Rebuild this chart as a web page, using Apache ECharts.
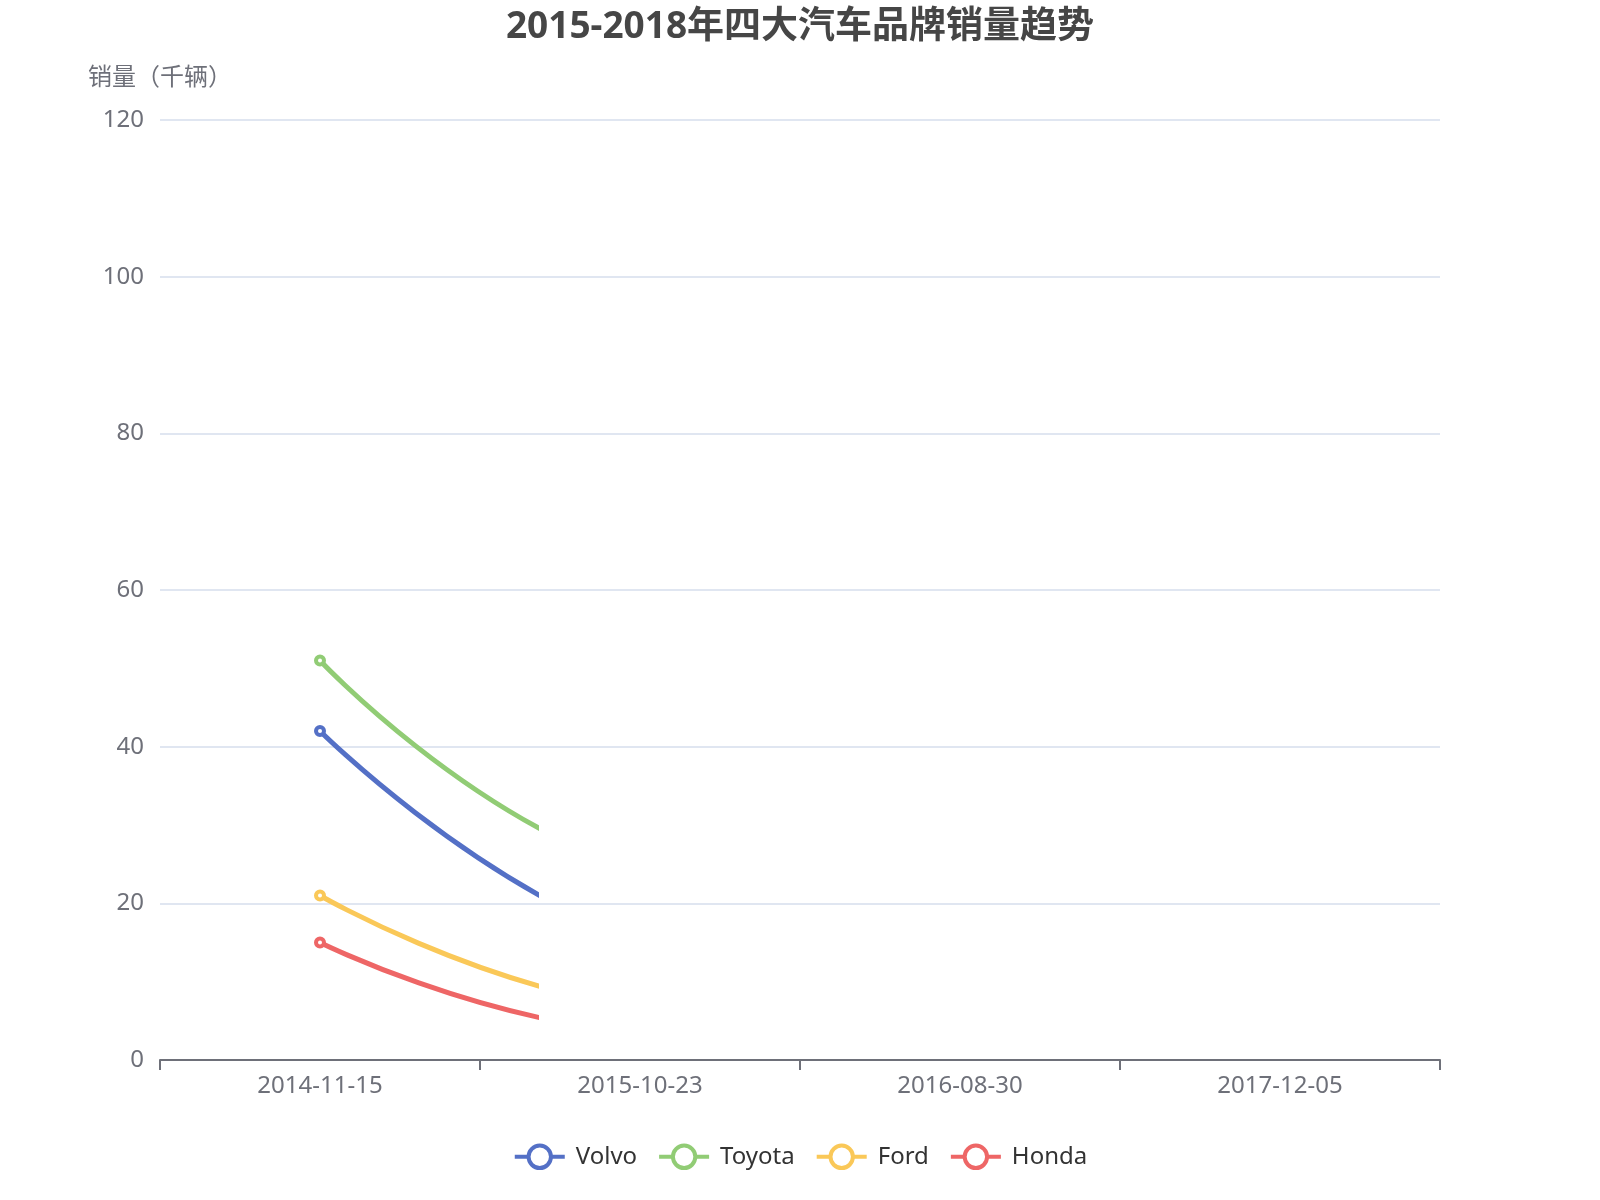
<!DOCTYPE html>
<html>
<head>
<meta charset="utf-8">
<script src="https://cdn.jsdelivr.net/npm/echarts@6/dist/echarts.min.js"></script>
<style>
html, body { margin: 0; padding: 0; background: #ffffff; }
#main { width: 1600px; height: 1200px; }
</style>
</head>
<body>
<div id="main"></div>
<script>
// ---- data ----
const categories = ['2014-11-15', '2015-10-23', '2016-08-30', '2017-12-05'];
const seriesNames = ['Volvo', 'Toyota', 'Ford', 'Honda'];
const volvo  = [42, 15, 8, 62];
const toyota = [51, 24, 18, 108];
const ford   = [21, 6.7, 4, 36];
const honda  = [15, 3.5, 2, 22];
const yTicks = [0, 20, 40, 60, 80, 100, 120];
const titleText = '2015-2018年四大汽车品牌销量趋势';
const yAxisName = '销量（千辆）';

// ---- style / layout ----
const palette = ['#5470c6', '#91cc75', '#fac858', '#ee6666'];
const FONT = "'Noto Sans', 'Noto Sans CJK SC', sans-serif";
const W = 1600;
const gridLeft = 160, gridRight = 160, gridTop = 120, gridBottom = 140;
const revealRight = 536; // lines are only drawn up to this x (partial reveal)
const bandWidth = (W - gridLeft - gridRight) / categories.length;
const clipWidth = revealRight - gridLeft;
const xMaxReveal = -0.5 + clipWidth / bandWidth;

const seriesValues = [volvo, toyota, ford, honda];

const chart = echarts.init(document.getElementById('main'));
chart.setOption({
  animation: false,
  color: palette,
  textStyle: { fontFamily: FONT },
  title: {
    text: titleText,
    left: 'center',
    top: 0,
    padding: [9, 10],
    textStyle: { fontSize: 37, fontWeight: 'bold', color: '#464646', fontFamily: FONT }
  },
  legend: {
    data: seriesNames,
    left: 'center',
    bottom: 20,
    padding: 10,
    itemWidth: 50,
    itemHeight: 28,
    itemGap: 20,
    lineStyle: { width: 4 },
    itemStyle: { color: '#ffffff', borderColor: 'inherit', borderWidth: 4 },
    textStyle: { fontSize: 24, color: '#333333', fontFamily: FONT, padding: [0, 0, 0, 6] }
  },
  grid: [
    { left: gridLeft, right: gridRight, top: gridTop, bottom: gridBottom, containLabel: false },
    { left: gridLeft, width: clipWidth, top: gridTop, bottom: gridBottom, containLabel: false }
  ],
  xAxis: [
    {
      type: 'category',
      gridIndex: 0,
      data: categories,
      boundaryGap: true,
      axisLine: { show: true, lineStyle: { color: '#6E7079', width: 2 } },
      axisTick: { show: true, length: 10, lineStyle: { color: '#6E7079', width: 2 } },
      axisLabel: { fontSize: 24, margin: 14, color: '#6E7079', fontFamily: FONT },
      splitLine: { show: false }
    },
    { type: 'value', gridIndex: 1, min: -0.5, max: xMaxReveal, show: false }
  ],
  yAxis: [
    {
      type: 'value',
      gridIndex: 0,
      min: yTicks[0],
      max: yTicks[yTicks.length - 1],
      interval: yTicks[1] - yTicks[0],
      name: yAxisName,
      nameLocation: 'end',
      nameGap: 30,
      nameTextStyle: { fontSize: 24, color: '#6E7079', fontFamily: FONT },
      axisLine: { show: false },
      axisTick: { show: false },
      axisLabel: { fontSize: 24, margin: 16, color: '#6E7079', fontFamily: FONT },
      splitLine: { show: true, lineStyle: { color: '#E0E6F1', width: 2 } }
    },
    {
      type: 'value', gridIndex: 1,
      min: yTicks[0], max: yTicks[yTicks.length - 1],
      show: false
    }
  ],
  series: seriesNames.map(function (name, k) {
    return {
      name: name,
      type: 'line',
      xAxisIndex: 1,
      yAxisIndex: 1,
      smooth: true,
      clip: true,
      symbol: 'circle',
      symbolSize: 8,
      showSymbol: true,
      lineStyle: { width: 5, color: palette[k] },
      itemStyle: { color: '#ffffff', borderColor: palette[k], borderWidth: 4 },
      data: seriesValues[k].map(function (v, i) { return [i, v]; })
    };
  })
});
</script>
</body>
</html>
